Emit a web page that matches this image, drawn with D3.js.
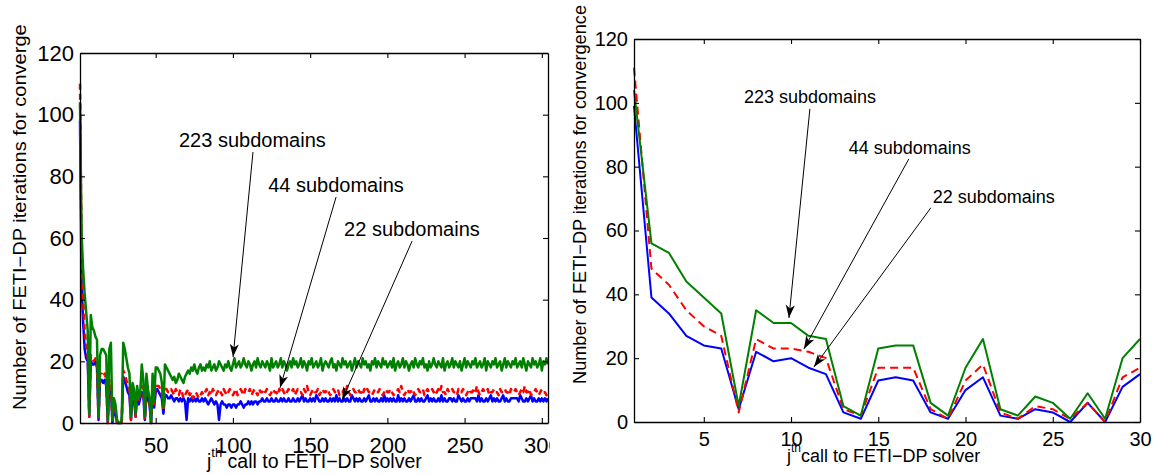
<!DOCTYPE html>
<html>
<head>
<meta charset="utf-8">
<script src="https://cdn.jsdelivr.net/npm/d3@7"></script>
<style>
  body { margin: 0; background: #fff; }
  svg { display: block; font-family: "Liberation Sans", Arial, sans-serif; }
</style>
</head>
<body>
<svg width="1159" height="475"></svg>
<script>
// ---- data: left panel, one value per call j = 1..304 ----
var leftGreen = [
  104,62,50,42,36,30,3,35,31,30, 28,27,2,22,24,24,23,22,1,24,
  26,1,8,6,1,0,0,1,26,24, 21,18,16,2,13,11,3,12,8,10,
  19,14,2,16,11,8,0,16,7,18, 18,17,16,13,5,19,18,17,16,15,
  14,15,13,14,16,15,14,13,15,16, 17,16,18,17,19,17,16,18,19,17,
  18,17,19,18,20,17,18,19,17,18, 20,19,18,17,19,18,20,18,17,19,
  21,18,19,20,18,19,21,19,18,20, 19,17,19,20,18,21,19,18,20,19,
  18,20,19,17,21,18,19,20,18,19, 21,18,20,19,17,19,20,18,21,19,
  20,18,19,21,18,20,19,17,20,19, 21,18,19,20,18,19,21,17,19,20,
  19,18,20,21,18,19,17,20,19,18, 21,19,20,18,19,20,17,19,21,18,
  20,19,18,21,19,20,18,19,17,20, 19,21,18,20,19,18,21,19,20,18,
  19,20,18,21,17,19,20,18,19,21, 18,20,19,17,19,20,18,21,19,18,
  20,19,21,18,19,17,20,18,19,21, 19,18,20,19,18,21,17,19,20,18,
  19,21,18,20,19,18,20,17,19,21, 18,20,19,18,20,19,21,18,19,20,
  18,19,21,17,20,19,18,20,19,21, 18,19,20,17,19,21,18,20,19,18,
  20,19,21,18,19,20,18,21,19,17, 20,19,18,21,19,20,18,19,21,17,
  20,19,21,19
];
var leftRed = [
  110,55,40,30,25,22,2,22,21,20, 21,20,1,16,16,15,16,14,0,14,
  13,0,6,4,0,0,0,0,17,16, 14,12,11,1,11,10,2,10,7,9,
  12,11,1,11,10,7,0,11,6,12, 12,12,11,10,4,11,11,10,10,11,
  10,9,11,10,9,11,10,8,9,10, 11,9,10,8,9,10,9,8,9,10,
  9,10,11,9,10,9,11,10,9,10, 11,10,9,11,10,9,10,11,10,9,
  10,11,9,10,11,10,9,11,10,10, 11,9,10,11,10,9,11,10,10,11,
  10,11,10,9,10,11,10,10,9,11, 10,11,10,9,10,11,10,10,11,9,
  10,11,10,10,9,11,10,12,10,9, 10,11,10,10,11,9,10,11,10,10,
  11,10,9,10,11,10,10,11,9,10, 10,11,10,12,10,9,10,11,10,10,
  11,10,10,9,11,10,11,10,10,9, 10,11,10,10,11,10,9,10,11,10,
  10,11,10,9,10,10,11,10,12,10, 9,10,11,10,10,11,10,9,10,11,
  10,10,11,9,10,11,10,10,11,10, 9,10,11,10,12,10,10,9,11,10,
  10,11,10,10,9,11,10,10,11,10, 9,10,11,10,10,11,10,12,10,9,
  10,11,10,10,11,9,10,10,11,10, 10,9,11,10,10,11,10,10,9,11,
  10,10,11,10,9,10,11,10,12,10, 10,11,9,10,10,11,10,9,10,11,
  10,10,9,10
];
var leftBlue = [
  98,45,33,24,21,20,2,20,19,19, 20,18,1,14,14,13,14,12,0,12,
  11,0,5,3,0,0,0,0,15,14, 12,10,9,1,9,8,2,9,6,8,
  10,9,1,9,8,6,0,9,5,10, 11,10,9,8,3,9,9,8,8,9,
  8,7,8,8,7,8,7,8,7,1, 8,7,8,7,8,7,8,7,7,8,
  7,8,7,6,7,8,7,6,7,6, 1,6,7,6,6,5,6,6,5,6,
  6,5,6,6,7,6,5,6,6,7, 6,7,6,7,7,6,7,7,8,7,
  7,8,7,7,8,7,7,8,7,7, 8,7,8,7,7,8,7,7,8,7,
  7,8,7,8,9,7,8,7,7,8, 7,8,7,9,8,7,7,8,7,8,
  7,7,8,7,8,7,9,7,8,7, 7,8,7,8,7,7,9,8,7,8,
  7,8,7,7,8,7,8,9,7,7, 8,7,8,7,7,8,7,9,7,8,
  7,8,7,8,7,7,9,7,8,7, 8,7,7,8,7,8,9,7,7,8,
  7,8,7,7,8,9,7,8,7,8, 7,7,8,7,9,7,8,7,7,8,
  8,7,8,7,7,9,8,7,8,7, 7,8,7,8,8,8,8,7,9,7,
  8,7,7,8,7,8,9,7,8,7, 8,7,7,8,9,7,8,7,7,8,
  8,8,8,8,7,9,8,7,7,8, 7,8,9,7,8,7,7,8,7,8,
  7,8,7,8
];

// ---- data: right panel, calls j = 1..30 ----
var rightGreen = [104,56,53,44,39,34,5,35,31,31,27,26,5,2,23,24,24,6,2,17,26,4,2,8,6,1,9,1,20,26];
var rightRed   = [111,48,43,35,30,27,3,26,23,23,22,20,4,2,17,17,17,4,1,13,18,3,1,5,4,1,6,0,14,17];
var rightBlue  = [99,39,34,27,24,23,4,22,19,20,17,15,3,1,13,14,13,3,1,10,14,2,1,4,3,0,6,0,11,15];

var leftXTicks = [50, 100, 150, 200, 250, 300];
var rightXTicks = [5, 10, 15, 20, 25, 30];
var yTicks = [0, 20, 40, 60, 80, 100, 120];
var annoLabels = ["223 subdomains", "44 subdomains", "22 subdomains"];
var yTitle = "Number of FETI\u2212DP iterations for convergence";
var xTitle = "call to FETI\u2212DP solver";

var svg = d3.select("svg");
var defs = svg.append("defs");

defs.append("clipPath").attr("id", "leftClip")
  .append("rect").attr("x", 0).attr("y", 24).attr("width", 550).attr("height", 451);

defs.append("marker")
  .attr("id", "arrow")
  .attr("viewBox", "-14 -6 16 12")
  .attr("markerWidth", 16)
  .attr("markerHeight", 12)
  .attr("refX", 0).attr("refY", 0)
  .attr("orient", "auto")
  .attr("markerUnits", "userSpaceOnUse")
  .append("path")
  .attr("d", "M0,0L-13,-4.5L-9.5,0L-13,4.5Z")
  .attr("fill", "#000");

function drawPanel(g, p) {
  var x = d3.scaleLinear().domain(p.xDomain).range([p.left, p.right]);
  var y = d3.scaleLinear().domain([0, 120]).range([p.bottom, p.top]);

  var series = [
    { values: p.blue, color: "#0000ff", dash: null },
    { values: p.red, color: "#ff0000", dash: p.dash },
    { values: p.green, color: "#008000", dash: null }
  ];

  var line = d3.line()
    .x(function (d, i) { return x(i + 1); })
    .y(function (d) { return y(d); });

  g.selectAll("path.series")
    .data(series)
    .enter()
    .append("path")
    .attr("class", "series")
    .attr("fill", "none")
    .attr("stroke", function (d) { return d.color; })
    .attr("stroke-width", p.lineWidth)
    .attr("stroke-linejoin", "round")
    .attr("stroke-dasharray", function (d) { return d.dash; })
    .attr("d", function (d) { return line(d.values); });

  // box + inward ticks
  var bottom = g.append("g").attr("transform", "translate(0," + p.bottom + ")")
    .call(d3.axisBottom(x).tickValues(p.xTicks).tickSizeInner(-5).tickSizeOuter(0).tickPadding(p.xPad));
  var top = g.append("g").attr("transform", "translate(0," + p.top + ")")
    .call(d3.axisTop(x).tickValues(p.xTicks).tickSizeInner(-5).tickSizeOuter(0).tickFormat(""));
  var leftAx = g.append("g").attr("transform", "translate(" + p.left + ",0)")
    .call(d3.axisLeft(y).tickValues(yTicks).tickSizeInner(-5).tickSizeOuter(0).tickPadding(6));
  var rightAx = g.append("g").attr("transform", "translate(" + p.right + ",0)")
    .call(d3.axisRight(y).tickValues(yTicks).tickSizeInner(-5).tickSizeOuter(0).tickFormat(""));

  [bottom, top, leftAx, rightAx].forEach(function (a) {
    a.attr("font-family", null).attr("font-size", p.tickFont);
    a.select(".domain").attr("stroke", "#000").attr("stroke-width", 1.3);
    a.selectAll(".tick line").attr("stroke", "#000").attr("stroke-width", 1.1);
    a.selectAll(".tick text").attr("fill", "#000");
  });

  // y title
  g.append("text")
    .attr("transform", "translate(" + p.yTitleX + "," + p.yTitleY + ") rotate(-90)")
    .attr("font-size", p.yTitleFont)
    .attr("textLength", p.yTitleLen)
    .attr("lengthAdjust", "spacingAndGlyphs")
    .attr("fill", "#000")
    .text(yTitle);

  // x title with superscript
  var xt = g.append("text")
    .attr("x", p.xTitleX).attr("y", p.xTitleY)
    .attr("font-size", p.xTitleFont)
    .attr("fill", "#000");
  xt.append("tspan").text("j");
  xt.append("tspan").attr("font-size", p.supFont).attr("dy", -p.supShift).text("th");
  xt.append("tspan").attr("dy", p.supShift).text(p.xTitleGap + xTitle);

  // annotations
  var anno = g.selectAll("g.anno")
    .data(p.anno)
    .enter()
    .append("g")
    .attr("class", "anno");
  anno.append("text")
    .attr("x", function (d) { return x(d.tx); })
    .attr("y", function (d) { return y(d.ty); })
    .attr("font-size", p.annoFont)
    .attr("fill", "#000")
    .text(function (d, i) { return annoLabels[i]; });
  anno.append("line")
    .attr("x1", function (d) { return x(d.sx); })
    .attr("y1", function (d) { return y(d.sy); })
    .attr("x2", function (d) { return x(d.ex); })
    .attr("y2", function (d) { return y(d.ey); })
    .attr("stroke", "#000")
    .attr("stroke-width", 1)
    .attr("marker-end", "url(#arrow)");
}

var leftG = svg.append("g").attr("clip-path", "url(#leftClip)");
drawPanel(leftG, {
  left: 80, right: 548, top: 53, bottom: 423,
  xDomain: [1, 304], xTicks: leftXTicks, xPad: 14,
  green: leftGreen, red: leftRed, blue: leftBlue,
  dash: "6,4", lineWidth: 2.5, tickFont: 22,
  yTitleX: 26, yTitleY: 410, yTitleFont: 18, yTitleLen: 418,
  xTitleX: 207, xTitleY: 468, xTitleFont: 19.5, supFont: 13, supShift: 11, xTitleGap: " ",
  annoFont: 20,
  anno: [
    { tx: 65.1, ty: 89.5, sx: 113.0, sy: 87.9, ex: 100.1, ey: 21.4 },
    { tx: 122.8, ty: 74.9, sx: 166.8, sy: 73.3, ex: 130.5, ey: 11.4 },
    { tx: 172.0, ty: 60.7, sx: 216.0, sy: 59.0, ex: 170.7, ey: 7.5 }
  ]
});

var rightG = svg.append("g");
drawPanel(rightG, {
  left: 634, right: 1140, top: 39, bottom: 422,
  xDomain: [1, 30], xTicks: rightXTicks, xPad: 10,
  green: rightGreen, red: rightRed, blue: rightBlue,
  dash: "8,5", lineWidth: 2, tickFont: 20,
  yTitleX: 586, yTitleY: 384, yTitleFont: 18, yTitleLen: 379,
  xTitleX: 787, xTitleY: 462, xTitleFont: 18, supFont: 12, supShift: 10, xTitleGap: "",
  annoFont: 18,
  anno: [
    { tx: 7.30, ty: 100.0, sx: 11.08, sy: 98.1, ex: 9.88, ey: 32.6 },
    { tx: 13.31, ty: 84.0, sx: 16.75, sy: 82.4, ex: 10.74, ey: 22.9 },
    { tx: 18.12, ty: 68.7, sx: 18.01, sy: 67.1, ex: 11.31, ey: 17.2 }
  ]
});
</script>
</body>
</html>
